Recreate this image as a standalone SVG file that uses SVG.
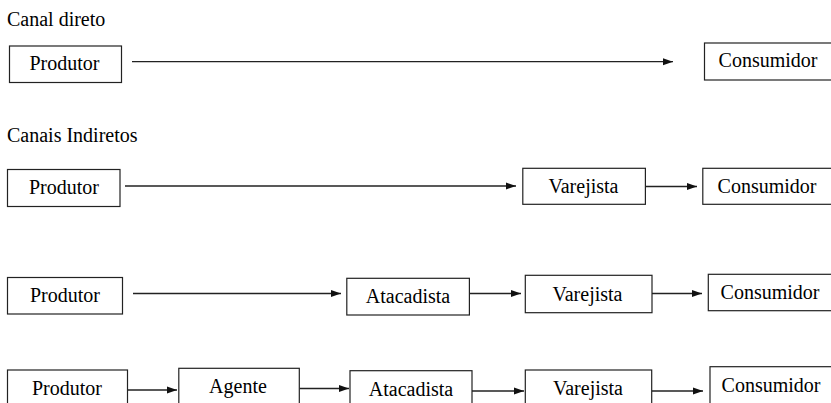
<svg xmlns="http://www.w3.org/2000/svg" width="831" height="403" viewBox="0 0 831 403">
<defs>
<marker id="ah" markerUnits="userSpaceOnUse" markerWidth="10" markerHeight="8" refX="10" refY="3.5" orient="auto" viewBox="0 0 10 7">
<path d="M0,0 L10,3.5 L0,7 z" fill="#111"/>
</marker>
</defs>
<text x="7" y="26" font-family="Liberation Serif" font-size="20" style="font-family:'Liberation Serif',serif !important">Canal direto</text>
<text x="7" y="142" font-family="Liberation Serif" font-size="20" style="font-family:'Liberation Serif',serif !important">Canais Indiretos</text>
<g id="connectors" stroke="#222" stroke-width="1.3" fill="none" marker-end="url(#ah)">
<line x1="132" y1="61.7" x2="673" y2="61.7"/>
<line x1="125" y1="186" x2="516" y2="186"/>
<line x1="646" y1="186.5" x2="697" y2="186.5"/>
<line x1="133" y1="293.5" x2="341" y2="293.5"/>
<line x1="469.5" y1="293.5" x2="521" y2="293.5"/>
<line x1="652" y1="293.5" x2="702" y2="293.5"/>
<line x1="127.5" y1="390" x2="177" y2="390"/>
<line x1="299.5" y1="388.5" x2="349" y2="388.5"/>
<line x1="472" y1="391" x2="524" y2="391"/>
<line x1="652" y1="391" x2="703" y2="391"/>
</g>
<g id="r1-produtor"><rect x="9.5" y="46" width="112" height="36.5" fill="#fff" stroke="#222" stroke-width="1.2"/><text x="64.5" y="70" font-family="Liberation Serif" font-size="20" text-anchor="middle" style="font-family:'Liberation Serif',serif !important">Produtor</text></g>
<g id="r1-consumidor"><rect x="704.5" y="43" width="135" height="37" fill="#fff" stroke="#222" stroke-width="1.2"/><text x="768" y="67.3" font-family="Liberation Serif" font-size="20" text-anchor="middle" style="font-family:'Liberation Serif',serif !important">Consumidor</text></g>
<g id="r2-produtor"><rect x="7.5" y="169.5" width="112.5" height="37" fill="#fff" stroke="#222" stroke-width="1.2"/><text x="64" y="194" font-family="Liberation Serif" font-size="20" text-anchor="middle" style="font-family:'Liberation Serif',serif !important">Produtor</text></g>
<g id="r2-varejista"><rect x="522.8" y="168.3" width="122.6" height="36" fill="#fff" stroke="#222" stroke-width="1.2"/><text x="583.5" y="193.3" font-family="Liberation Serif" font-size="20" text-anchor="middle" style="font-family:'Liberation Serif',serif !important">Varejista</text></g>
<g id="r2-consumidor"><rect x="702.8" y="168.3" width="135" height="36" fill="#fff" stroke="#222" stroke-width="1.2"/><text x="767" y="193.3" font-family="Liberation Serif" font-size="20" text-anchor="middle" style="font-family:'Liberation Serif',serif !important">Consumidor</text></g>
<g id="r3-produtor"><rect x="7.5" y="277.5" width="115" height="36.5" fill="#fff" stroke="#222" stroke-width="1.2"/><text x="65" y="301.7" font-family="Liberation Serif" font-size="20" text-anchor="middle" style="font-family:'Liberation Serif',serif !important">Produtor</text></g>
<g id="r3-atacadista"><rect x="346.8" y="278.3" width="122.6" height="36.7" fill="#fff" stroke="#222" stroke-width="1.2"/><text x="408" y="302.7" font-family="Liberation Serif" font-size="20" text-anchor="middle" style="font-family:'Liberation Serif',serif !important">Atacadista</text></g>
<g id="r3-varejista"><rect x="525.3" y="275.3" width="126.7" height="37.4" fill="#fff" stroke="#222" stroke-width="1.2"/><text x="587.5" y="300.7" font-family="Liberation Serif" font-size="20" text-anchor="middle" style="font-family:'Liberation Serif',serif !important">Varejista</text></g>
<g id="r3-consumidor"><rect x="708.3" y="274.3" width="135" height="36.4" fill="#fff" stroke="#222" stroke-width="1.2"/><text x="770" y="299.3" font-family="Liberation Serif" font-size="20" text-anchor="middle" style="font-family:'Liberation Serif',serif !important">Consumidor</text></g>
<g id="r4-produtor"><rect x="7.5" y="370" width="120" height="40" fill="#fff" stroke="#222" stroke-width="1.2"/><text x="67" y="395" font-family="Liberation Serif" font-size="20" text-anchor="middle" style="font-family:'Liberation Serif',serif !important">Produtor</text></g>
<g id="r4-agente"><rect x="178.8" y="368.3" width="120.5" height="42" fill="#fff" stroke="#222" stroke-width="1.2"/><text x="238" y="393.3" font-family="Liberation Serif" font-size="20" text-anchor="middle" style="font-family:'Liberation Serif',serif !important">Agente</text></g>
<g id="r4-atacadista"><rect x="350" y="370.7" width="122" height="40" fill="#fff" stroke="#222" stroke-width="1.2"/><text x="411" y="395.5" font-family="Liberation Serif" font-size="20" text-anchor="middle" style="font-family:'Liberation Serif',serif !important">Atacadista</text></g>
<g id="r4-varejista"><rect x="525.3" y="370" width="126.4" height="40" fill="#fff" stroke="#222" stroke-width="1.2"/><text x="588" y="395" font-family="Liberation Serif" font-size="20" text-anchor="middle" style="font-family:'Liberation Serif',serif !important">Varejista</text></g>
<g id="r4-consumidor"><rect x="710" y="366.7" width="135" height="42" fill="#fff" stroke="#222" stroke-width="1.2"/><text x="771" y="391.7" font-family="Liberation Serif" font-size="20" text-anchor="middle" style="font-family:'Liberation Serif',serif !important">Consumidor</text></g>
</svg>
